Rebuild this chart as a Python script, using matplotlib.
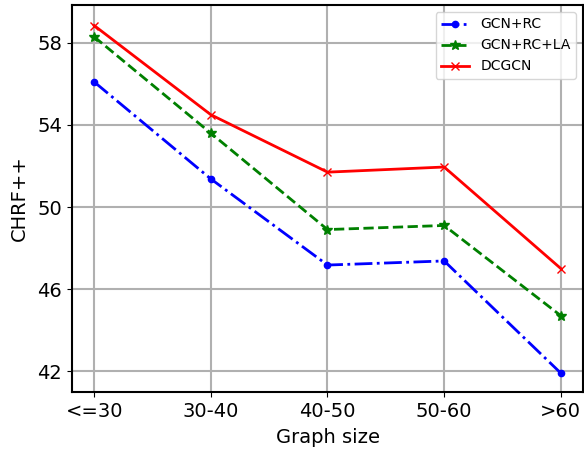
import matplotlib
matplotlib.use("Agg")
import matplotlib.pyplot as plt

categories = ["<=30", "30-40", "40-50", "50-60", ">60"]
gcn_rc = [56.1, 51.37, 47.17, 47.37, 41.9]
gcn_rc_la = [58.3, 53.6, 48.9, 49.1, 44.7]
dcgcn = [58.85, 54.5, 51.7, 51.95, 47.0]
yticks = [42, 46, 50, 54, 58]

fig = plt.figure(figsize=(5.84, 4.5), dpi=100)
ax = fig.add_axes([72/584, 58/450, 511/584, 387/450])
x = list(range(len(categories)))
ax.plot(x, gcn_rc, color="blue", linestyle="-.", marker="o", markersize=4.5, linewidth=2, label="GCN+RC")
ax.plot(x, gcn_rc_la, color="green", linestyle="--", marker="*", markersize=7, linewidth=2, label="GCN+RC+LA")
ax.plot(x, dcgcn, color="red", linestyle="-", marker="x", markersize=6, linewidth=2, label="DCGCN")
ax.set_xticks(x)
ax.set_xticklabels(categories, fontsize=14)
ax.set_yticks(yticks)
ax.set_yticklabels([str(v) for v in yticks], fontsize=14)
ax.set_xlim(-0.19, 4.19)
ax.set_ylim(40.98, 59.85)
ax.grid(True, color="#b0b0b0", linewidth=1.5)
ax.set_axisbelow(True)
ax.set_xlabel("Graph size", fontsize=14, labelpad=5)
ax.set_ylabel("CHRF++", fontsize=14, labelpad=6)
for s in ax.spines.values():
    s.set_linewidth(1.5)
ax.legend(loc="upper right", fontsize=10)
fig.savefig("out.png", dpi=100)
